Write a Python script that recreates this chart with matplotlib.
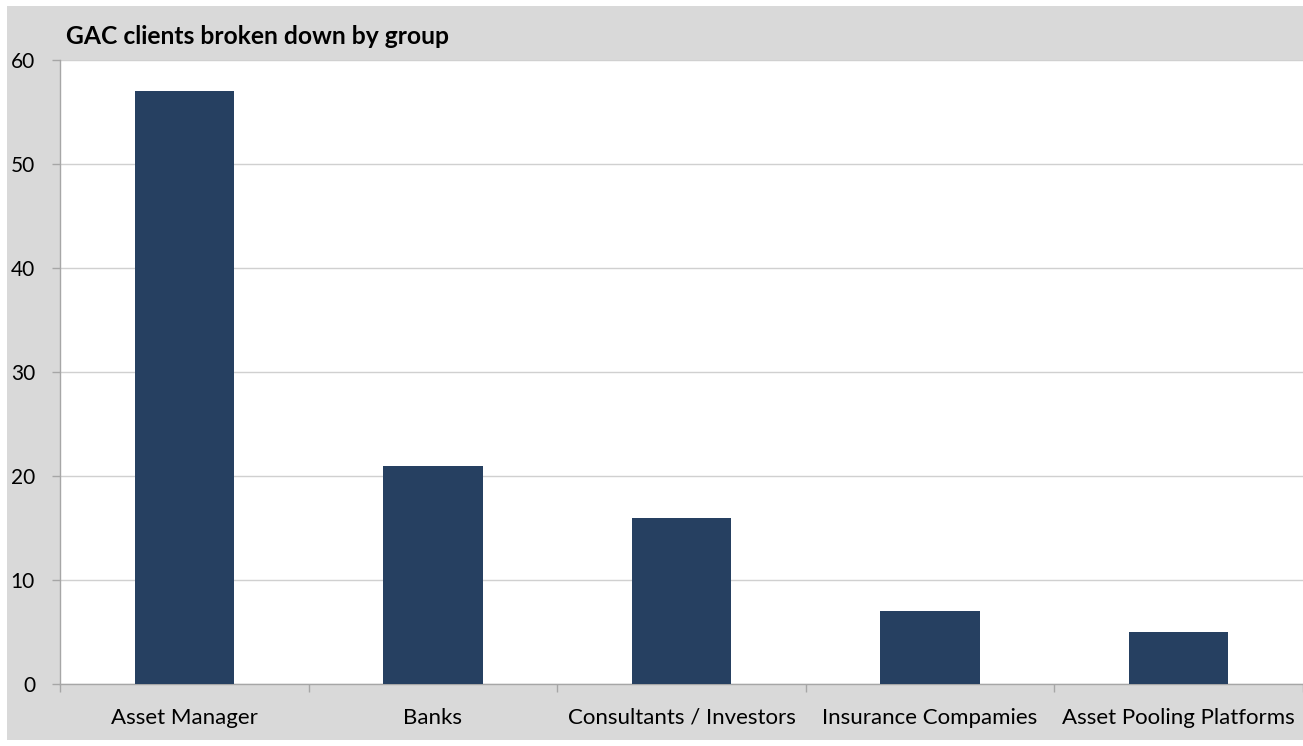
import matplotlib
matplotlib.use("Agg")
import matplotlib.pyplot as plt
from matplotlib.patches import Rectangle

categories = ["Asset Manager", "Banks", "Consultants / Investors",
              "Insurance Compamies", "Asset Pooling Platforms"]
values = [57, 21, 16, 7, 5]
yticks = [0, 10, 20, 30, 40, 50, 60]
title = "GAC clients broken down by group"

plt.rcParams['font.family'] = ['Lato', 'DejaVu Sans']

W, H = 1303, 746
fig = plt.figure(figsize=(W / 100, H / 100), dpi=100)
fig.patch.set_facecolor("white")
# gray chart background
fig.patches.append(Rectangle((7 / W, 1 - 740 / H), 1 - 7 / W, (740 - 6) / H,
                             transform=fig.transFigure, facecolor="#d9d9d9",
                             edgecolor="none", zorder=-10))

ax = fig.add_axes([60 / W, 1 - 684 / H, (1303 - 60) / W, (684 - 60) / H])
ax.set_zorder(5)
ax.set_facecolor("white")
x = list(range(len(categories)))
ax.bar(x, values, width=0.4, color="#264061", zorder=3)
ax.set_xlim(-0.5, len(categories) - 0.5)
ax.set_ylim(0, 60)
ax.set_yticks(yticks)
ax.set_yticklabels([str(v) for v in yticks], fontsize=15)
ax.set_xticks([i - 0.5 for i in range(len(categories) + 1)], minor=False)
ax.set_xticklabels([])
ax.set_xticks(x, minor=True)
ax.set_xticklabels(categories, minor=True, fontsize=16)
ax.tick_params(axis="x", which="minor", length=0, pad=17)
ax.tick_params(axis="x", which="major", length=6, color="#a6a6a6", width=1)
ax.tick_params(axis="y", length=6, color="#a6a6a6", width=1, pad=12)
ax.grid(axis="y", color="#d0d0d0", linewidth=1, zorder=0)
for s in ["top", "right"]:
    ax.spines[s].set_visible(False)
for s in ["left", "bottom"]:
    ax.spines[s].set_color("#a6a6a6")
    ax.spines[s].set_linewidth(1)
for lab in ax.get_yticklabels():
    lab.set_ha("right")

fig.text(66 / W, 1 - 37 / H, title, fontsize=17.7, fontweight="bold",
         va="center", ha="left", color="black")

fig.savefig("out.png", dpi=100, facecolor=fig.get_facecolor())
